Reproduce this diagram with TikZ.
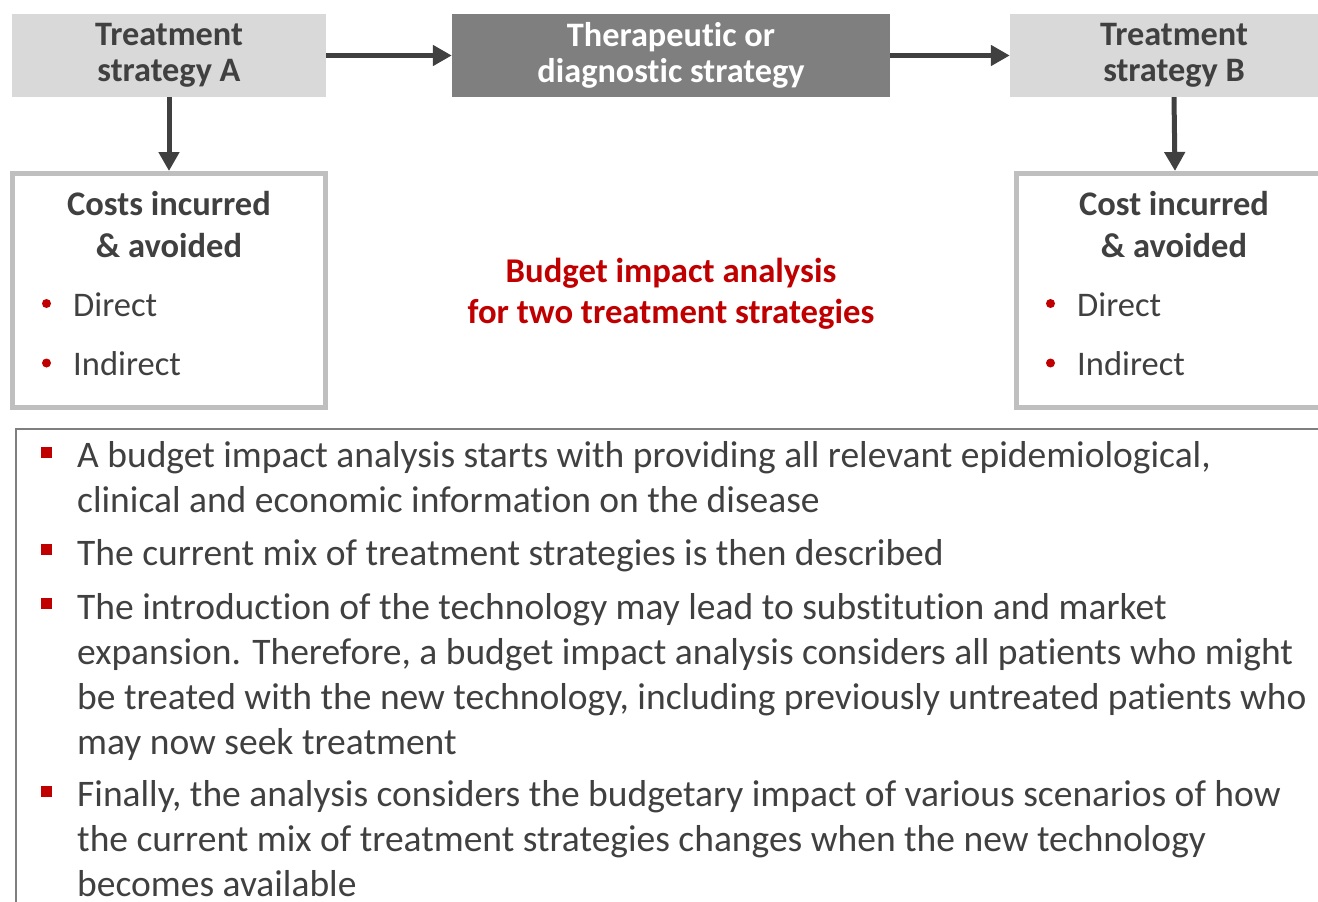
\documentclass[tikz,border=0pt]{standalone}
\usepackage{fontspec}
\setmainfont{Carlito}[Ligatures=NoCommon]
\usetikzlibrary{arrows.meta}
\definecolor{hdrgray}{HTML}{D9D9D9}
\definecolor{midgray}{HTML}{7F7F7F}
\definecolor{txtgray}{HTML}{404040}
\definecolor{rimgray}{HTML}{BFBFBF}
\definecolor{accred}{HTML}{C00000}
\tikzset{
  hdr/.style={draw=none, fill=hdrgray, inner sep=0pt, text=txtgray, align=center,
    minimum height=83pt, font=\fontsize{34.3}{36}\selectfont\bfseries},
  hdrdark/.style={hdr, fill=midgray, text=white},
  costbox/.style={draw=rimgray, line width=5pt, fill=white, inner sep=0pt, minimum height=234pt},
  costhead/.style={text=txtgray, align=center, inner sep=0pt, font=\fontsize{34.5}{42}\selectfont\bfseries},
  costitem/.style={text=txtgray, inner sep=0pt, anchor=base west, font=\fontsize{34.5}{40}\selectfont},
  dot/.style={fill=accred, draw=none},
  conn/.style={draw=txtgray, line width=5pt, -{Triangle[length=19pt, width=20pt]}},
  infobox/.style={draw=midgray, line width=2pt, inner sep=0pt, anchor=north west},
  infotext/.style={text=txtgray, inner sep=0pt, anchor=base west, align=left,
    font=\fontsize{37.5}{44.8}\selectfont},
  sqmark/.style={fill=accred, draw=none},
  redtitle/.style={text=accred, align=center, inner sep=0pt, font=\fontsize{34.7}{41}\selectfont\bfseries},
}
\begin{document}
\begin{tikzpicture}[x=1pt, y=-1pt]
\useasboundingbox (0,0) rectangle (1318,902);
\clip (0,0) rectangle (1318,902);
% top row
\node[hdr, minimum width=314pt] (stratA) at (169,55.5) {Treatment\\strategy A};
\node[hdrdark, minimum width=438pt] (therapy) at (671,55.5) {Therapeutic or\\diagnostic strategy};
\node[hdr, minimum width=328pt] (stratB) at (1174,55.5) {Treatment\\strategy B};
% cost boxes
\node[costbox, minimum width=313pt] (costA) at (169,290.5) {};
\node[costbox, minimum width=318pt] (costB) at (1175,290.5) {};
\draw[conn] (stratA) -- (therapy);
\draw[conn] (therapy) -- (stratB);
\draw[conn] (stratA.south) -- (costA.north);
\draw[conn] (stratB.south) -- (costB.north);
\node[costhead] (headA) at (169,224.5) {Costs incurred\\\& avoided};
\node[costhead] (headB) at (1174,224.5) {Cost incurred\\\& avoided};
\node[costitem] (dirA) at (73,316) {Direct};
\node[costitem] (indA) at (73,375) {Indirect};
\node[costitem] (dirB) at (1077,316) {Direct};
\node[costitem] (indB) at (1077,375) {Indirect};
\fill[dot] (46.5,303.5) circle (4.5pt) (46.5,363) circle (4.5pt);
\fill[dot] (1050.5,303.5) circle (4.5pt) (1050.5,363) circle (4.5pt);
% centre caption
\node[redtitle] (caption) at (671,294) {Budget impact analysis\\for two treatment strategies};
% notes (base = last line)
\node[infobox, minimum width=1330pt, minimum height=500pt] (info) at (15,428) {};
\node[infotext] (noteA) at (77,512) {A budget impact analysis starts with providing all relevant epidemiological,\\clinical and economic information on the disease};
\node[infotext] (noteB) at (77,565) {The current mix of treatment strategies is then described};
\node[infotext] (noteC) at (77,754) {The introduction of the technology may lead to substitution and market\\expansion. Therefore, a budget impact analysis considers all patients who might\\be treated with the new technology, including previously untreated patients who\\may now seek treatment};
\node[infotext] (noteD) at (77,896) {Finally, the analysis considers the budgetary impact of various scenarios of how\\the current mix of treatment strategies changes when the new technology\\becomes available};
\foreach \y in {468,565,619,807}
  \fill[sqmark] (41,\y-21) rectangle ++(10.5,11);
\end{tikzpicture}
\end{document}
